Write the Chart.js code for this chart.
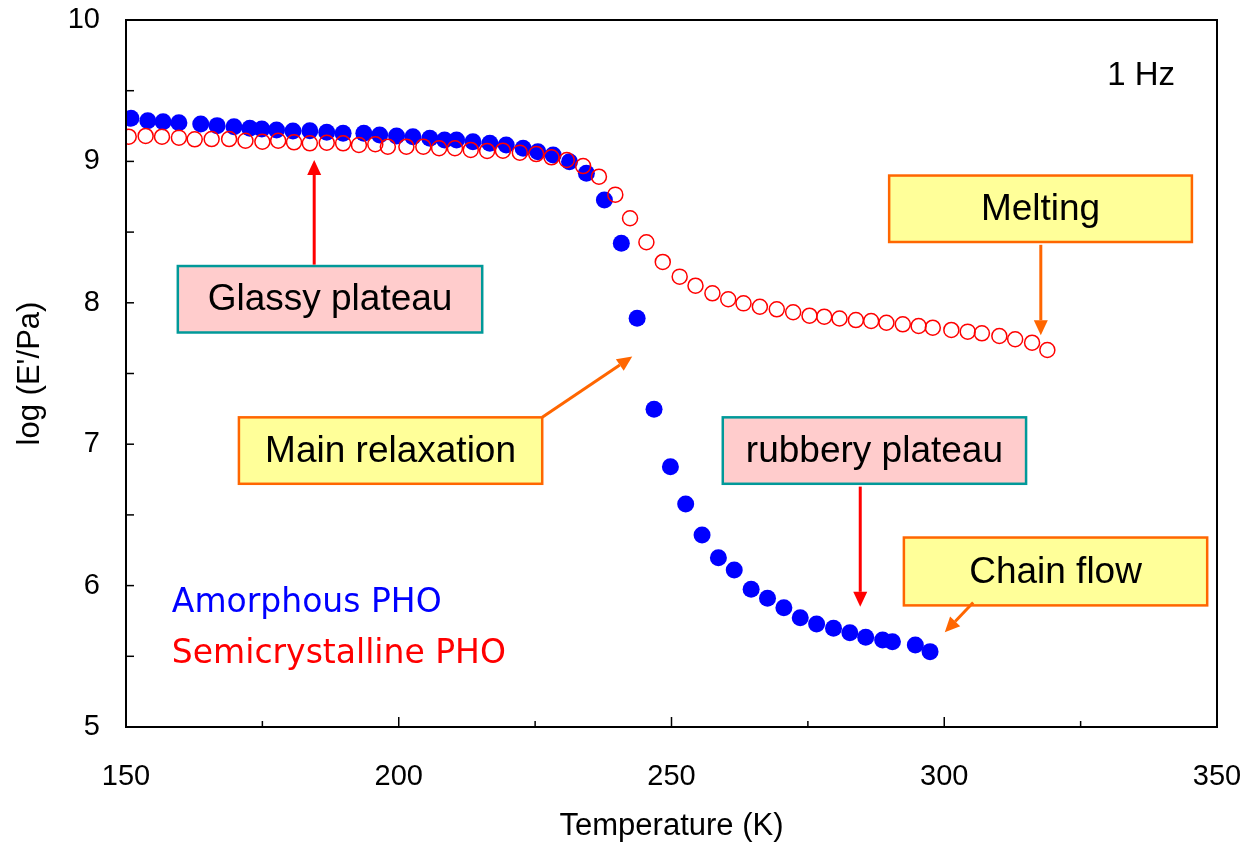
<!DOCTYPE html>
<html>
<head>
<meta charset="utf-8">
<script src="https://cdn.jsdelivr.net/npm/chart.js@4.4.1/dist/chart.umd.min.js"></script>
<style>
  html, body { margin: 0; padding: 0; background: #fff; }
  #wrap { width: 1247px; height: 851px; }
</style>
</head>
<body>
<div id="wrap"><canvas id="modulus" width="1247" height="851"></canvas></div>
<script>
// Amorphous PHO (filled blue)
const amorphousT = [150.9, 154.0, 156.8, 159.7, 163.7, 166.7, 169.8, 172.7, 174.9, 177.6,
  180.6, 183.7, 186.8, 189.8, 193.6, 196.5, 199.6, 202.6, 205.7, 208.4,
  210.6, 213.6, 216.7, 219.7, 222.8, 225.5, 228.3, 231.3, 234.4, 237.7,
  240.8, 243.7, 246.8, 249.8, 252.6, 255.6, 258.6, 261.5, 264.6, 267.6,
  270.6, 273.6, 276.6, 279.7, 282.7, 285.6, 288.7, 290.5, 294.7, 297.4];
const amorphousLogE = [9.305, 9.288, 9.281, 9.274, 9.265, 9.253, 9.245, 9.234, 9.229, 9.222,
  9.215, 9.217, 9.206, 9.199, 9.199, 9.187, 9.18, 9.175, 9.163, 9.151,
  9.151, 9.139, 9.128, 9.116, 9.093, 9.069, 9.045, 8.998, 8.916, 8.727,
  8.421, 7.89, 7.247, 6.84, 6.577, 6.358, 6.197, 6.11, 5.974, 5.91,
  5.844, 5.773, 5.728, 5.698, 5.667, 5.634, 5.615, 5.603, 5.58, 5.533];

// Semicrystalline PHO (open red)
const semiT = [150.5, 153.6, 156.6, 159.7, 162.6, 165.7, 168.9, 171.9, 175.0, 177.9,
  180.8, 183.7, 186.8, 189.8, 192.7, 195.7, 198.0, 201.4, 204.5, 207.4,
  210.3, 213.2, 216.2, 219.1, 222.2, 225.2, 228.0, 230.8, 233.8, 236.7,
  239.7, 242.4, 245.4, 248.4, 251.5, 254.4, 257.5, 260.4, 263.2, 266.2,
  269.3, 272.3, 275.3, 278.0, 280.8, 283.8, 286.6, 289.4, 292.4, 295.3,
  297.9, 301.3, 304.3, 306.9, 310.1, 313.0, 316.1, 318.9];
const semiLogE = [9.175, 9.18, 9.175, 9.168, 9.156, 9.158, 9.158, 9.146, 9.139, 9.146,
  9.135, 9.128, 9.132, 9.128, 9.116, 9.121, 9.104, 9.104, 9.104, 9.093,
  9.093, 9.081, 9.074, 9.076, 9.062, 9.052, 9.029, 9.01, 8.967, 8.892,
  8.765, 8.598, 8.428, 8.289, 8.185, 8.121, 8.067, 8.025, 7.996, 7.972,
  7.954, 7.933, 7.909, 7.902, 7.889, 7.878, 7.871, 7.859, 7.848, 7.836,
  7.824, 7.808, 7.796, 7.784, 7.765, 7.742, 7.718, 7.666];

// axis ranges and labelled ticks
const xRange = [150, 350];
const yRange = [5, 10];
const xTickLabels = [150, 200, 250, 300, 350];
const yTickLabels = [5, 6, 7, 8, 9, 10];

// labelled boxes, in data units: [x1, x2, y1, y2]
const boxes = [
  { text: "Glassy plateau", rect: [159.5, 215.3, 8.26, 7.79], style: "pink" },
  { text: "Melting", rect: [289.9, 345.4, 8.90, 8.43], style: "yellow" },
  { text: "Main relaxation", rect: [170.7, 226.3, 7.19, 6.72], style: "yellow" },
  { text: "rubbery plateau", rect: [259.4, 315.0, 7.19, 6.72], style: "pink" },
  { text: "Chain flow", rect: [292.6, 348.2, 6.34, 5.86], style: "yellow" }
];
// arrows, in data units: [fromX, fromY, toX, toY]
const arrows = [
  { from: [184.5, 8.27], to: [184.5, 9.01], color: "#ff0000" },
  { from: [317.7, 8.41], to: [317.7, 7.77], color: "#ff6600" },
  { from: [226.3, 7.19], to: [242.8, 7.62], color: "#ff6600" },
  { from: [284.6, 6.70], to: [284.6, 5.85], color: "#ff0000" },
  { from: [305.3, 5.88], to: [300.1, 5.67], color: "#ff6600" }
];

const toPoints = (xs, ys) => xs.map((x, i) => ({ x: x, y: ys[i] }));

const boxStyles = {
  pink: { fill: "#ffcccc", stroke: "#009999" },
  yellow: { fill: "#ffff99", stroke: "#ff6600" }
};

function drawArrow(ctx, x1, y1, x2, y2, color) {
  const ang = Math.atan2(y2 - y1, x2 - x1);
  const head = 15, half = 7;
  ctx.save();
  ctx.strokeStyle = color;
  ctx.fillStyle = color;
  ctx.lineWidth = 3;
  ctx.beginPath();
  ctx.moveTo(x1, y1);
  ctx.lineTo(x2 - head * Math.cos(ang), y2 - head * Math.sin(ang));
  ctx.stroke();
  ctx.beginPath();
  ctx.moveTo(x2, y2);
  ctx.lineTo(x2 - head * Math.cos(ang) + half * Math.sin(ang), y2 - head * Math.sin(ang) - half * Math.cos(ang));
  ctx.lineTo(x2 - head * Math.cos(ang) - half * Math.sin(ang), y2 - head * Math.sin(ang) + half * Math.cos(ang));
  ctx.closePath();
  ctx.fill();
  ctx.restore();
}

// frame, inward ticks, boxes, arrows and the text labels
const decorations = {
  id: "decorations",
  afterDraw(chart) {
    const ctx = chart.ctx;
    const area = chart.chartArea;
    const xs = chart.scales.x, ys = chart.scales.y;

    ctx.save();
    ctx.strokeStyle = "#000";
    ctx.lineWidth = 2;
    ctx.strokeRect(area.left, area.top, area.right - area.left, area.bottom - area.top);

    ctx.lineWidth = 1.5;
    xs.ticks.forEach(t => {
      if (t.value <= xRange[0] || t.value >= xRange[1]) return;
      const px = xs.getPixelForValue(t.value);
      const len = xTickLabels.includes(t.value) ? 10 : 6;
      ctx.beginPath();
      ctx.moveTo(px, area.bottom);
      ctx.lineTo(px, area.bottom - len);
      ctx.stroke();
    });
    ys.ticks.forEach(t => {
      if (t.value <= yRange[0] || t.value >= yRange[1]) return;
      const py = ys.getPixelForValue(t.value);
      ctx.beginPath();
      ctx.moveTo(area.left, py);
      ctx.lineTo(area.left + 8, py);
      ctx.stroke();
    });

    boxes.forEach(b => {
      const x1 = xs.getPixelForValue(b.rect[0]), x2 = xs.getPixelForValue(b.rect[1]);
      const y1 = ys.getPixelForValue(b.rect[2]), y2 = ys.getPixelForValue(b.rect[3]);
      const st = boxStyles[b.style];
      ctx.fillStyle = st.fill;
      ctx.fillRect(x1, y1, x2 - x1, y2 - y1);
      ctx.strokeStyle = st.stroke;
      ctx.lineWidth = 2.5;
      ctx.strokeRect(x1, y1, x2 - x1, y2 - y1);
      ctx.fillStyle = "#000";
      ctx.font = '37px "Liberation Sans", Arial, sans-serif';
      ctx.textAlign = "center";
      ctx.textBaseline = "middle";
      ctx.fillText(b.text, (x1 + x2) / 2, (y1 + y2) / 2 + 1);
    });

    arrows.forEach(a => {
      drawArrow(ctx,
        xs.getPixelForValue(a.from[0]), ys.getPixelForValue(a.from[1]),
        xs.getPixelForValue(a.to[0]), ys.getPixelForValue(a.to[1]), a.color);
    });

    ctx.fillStyle = "#000";
    ctx.font = '33px "Liberation Sans", Arial, sans-serif';
    ctx.textAlign = "right";
    ctx.textBaseline = "alphabetic";
    ctx.fillText("1 Hz", xs.getPixelForValue(342.3), ys.getPixelForValue(9.54));

    ctx.textAlign = "left";
    ctx.font = '33px "Comic Sans MS", "DejaVu Sans", sans-serif';
    ctx.fillStyle = "#0000ff";
    ctx.fillText("Amorphous PHO", xs.getPixelForValue(158.4), ys.getPixelForValue(5.81));
    ctx.fillStyle = "#ff0000";
    ctx.fillText("Semicrystalline PHO", xs.getPixelForValue(158.4), ys.getPixelForValue(5.45));
    ctx.restore();
  }
};

const ctx = document.getElementById("modulus").getContext("2d");
new Chart(ctx, {
  type: "scatter",
  data: {
    datasets: [
      {
        label: "Semicrystalline PHO",
        data: toPoints(semiT, semiLogE),
        pointStyle: "circle",
        pointRadius: 7.5,
        pointBackgroundColor: "rgba(0,0,0,0)",
        pointBorderColor: "#ff0000",
        pointBorderWidth: 1.5,
        order: 0
      },
      {
        label: "Amorphous PHO",
        data: toPoints(amorphousT, amorphousLogE),
        pointStyle: "circle",
        pointRadius: 8.5,
        pointBackgroundColor: "#0000ff",
        pointBorderWidth: 0,
        order: 1
      }
    ]
  },
  options: {
    responsive: false,
    animation: false,
    layout: { padding: { top: 20, right: 30, left: 0, bottom: 0 } },
    scales: {
      x: {
        type: "linear",
        min: xRange[0],
        max: xRange[1],
        afterFit: (scale) => {
          scale.height = 124;
          scale.paddingLeft = 0;
          scale.paddingRight = 0;
        },
        grid: { display: false, drawTicks: false },
        border: { display: false },
        ticks: {
          stepSize: 25,
          padding: 33,
          color: "#000",
          font: { family: '"Liberation Sans", Arial, sans-serif', size: 29 },
          maxRotation: 0,
          autoSkip: false,
          callback: (v) => xTickLabels.includes(v) ? String(v) : ""
        },
        title: {
          display: true,
          text: "Temperature (K)",
          color: "#000",
          font: { family: '"Liberation Sans", Arial, sans-serif', size: 31 },
          padding: { top: 0, bottom: 6 }
        }
      },
      y: {
        type: "linear",
        min: yRange[0],
        max: yRange[1],
        afterFit: (scale) => {
          scale.width = 126;
          scale.paddingTop = 0;
          scale.paddingBottom = 0;
        },
        grid: { display: false, drawTicks: false },
        border: { display: false },
        ticks: {
          stepSize: 0.5,
          padding: 26,
          color: "#000",
          font: { family: '"Liberation Sans", Arial, sans-serif', size: 29 },
          autoSkip: false,
          callback: (v) => yTickLabels.includes(v) ? String(v) : ""
        },
        title: {
          display: true,
          text: "log (E'/Pa)",
          color: "#000",
          font: { family: '"Liberation Sans", Arial, sans-serif', size: 31 },
          padding: { top: 12, bottom: 8 }
        }
      }
    },
    plugins: {
      legend: { display: false },
      tooltip: { enabled: false }
    }
  },
  plugins: [decorations]
});
</script>
</body>
</html>
